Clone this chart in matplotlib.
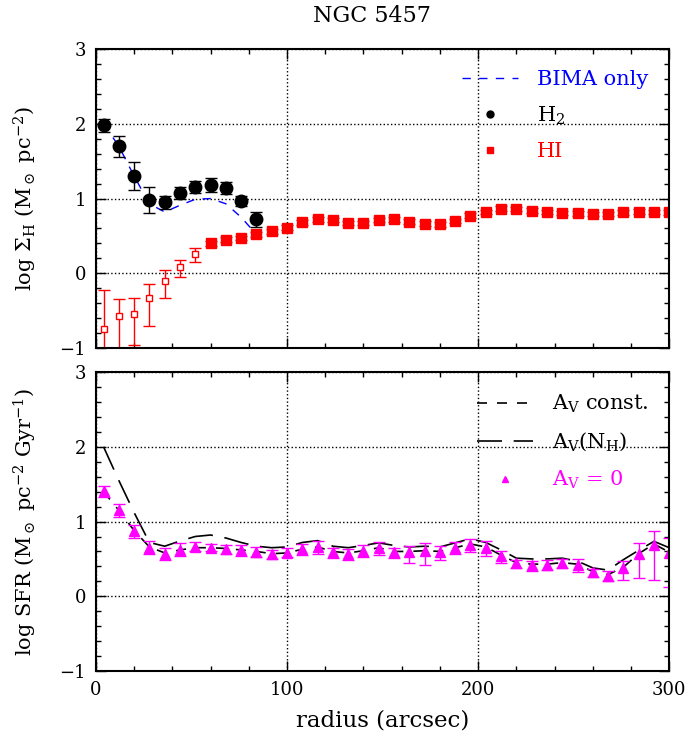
import numpy as np
import matplotlib
matplotlib.use('Agg')
import matplotlib.pyplot as plt
from matplotlib.lines import Line2D
from matplotlib.ticker import MultipleLocator

plt.rcParams['font.family'] = ['DejaVu Serif']
plt.rcParams['mathtext.fontset'] = 'dejavuserif'

# top panel: gas surface densities
h2_r = [4, 12, 20, 28, 36, 44, 52, 60, 68, 76, 84]
h2_y = [1.98, 1.70, 1.30, 0.98, 0.95, 1.075, 1.15, 1.18, 1.14, 0.97, 0.72]
h2_err = [0.09, 0.14, 0.19, 0.17, 0.09, 0.08, 0.08, 0.09, 0.08, 0.07, 0.10]
bima_y = [2.0, 1.7, 1.3, 0.93, 0.82, 0.91, 0.99, 1.0, 0.93, 0.75, 0.52]

hi_open_r = [4, 12, 20, 28, 36, 44, 52]
hi_open_y = [-0.75, -0.57, -0.545, -0.33, -0.10, 0.085, 0.26]
hi_open_lo = [1.0, 0.55, 0.42, 0.37, 0.23, 0.135, 0.11]
hi_open_hi = [0.53, 0.23, 0.215, 0.19, 0.15, 0.095, 0.08]

hi_r = list(range(60, 301, 8))
hi_y = [0.40, 0.45, 0.47, 0.52, 0.56, 0.61, 0.68, 0.72, 0.71, 0.67, 0.67,
        0.71, 0.72, 0.69, 0.665, 0.655, 0.70, 0.77, 0.82, 0.866, 0.86, 0.84,
        0.82, 0.81, 0.80, 0.795, 0.79, 0.815, 0.825, 0.82, 0.815]
hi_err = [0.03] * len(hi_r)

# bottom panel: star formation rate
sfr_r = list(range(4, 301, 8))
sfr0 = [1.405, 1.15, 0.87, 0.65, 0.56, 0.625, 0.66, 0.65, 0.63, 0.615, 0.59, 0.56, 0.58,
        0.635, 0.66, 0.59, 0.57, 0.61, 0.65, 0.59, 0.59, 0.60, 0.59, 0.65, 0.69,
        0.65, 0.535, 0.44, 0.415, 0.42, 0.445, 0.415, 0.32, 0.277, 0.38, 0.56, 0.69, 0.58]
sfr_up = [0.07, 0.09, 0.09, 0.09, 0.08, 0.09, 0.06, 0.05, 0.06, 0.07, 0.07, 0.06, 0.06,
          0.07, 0.08, 0.06, 0.06, 0.08, 0.08, 0.06, 0.08, 0.11, 0.08, 0.07, 0.08,
          0.09, 0.07, 0.05, 0.06, 0.06, 0.055, 0.08, 0.05, 0.06, 0.09, 0.15, 0.19, 0.20]
sfr_lo = [0.07, 0.09, 0.09, 0.09, 0.08, 0.09, 0.06, 0.05, 0.06, 0.07, 0.07, 0.06, 0.06,
          0.08, 0.10, 0.08, 0.08, 0.09, 0.10, 0.08, 0.14, 0.18, 0.10, 0.09, 0.10,
          0.11, 0.09, 0.06, 0.07, 0.07, 0.065, 0.09, 0.06, 0.07, 0.16, 0.31, 0.47, 0.45]
av_const = [1.40, 1.15, 0.88, 0.66, 0.58, 0.62, 0.65, 0.65, 0.64, 0.62, 0.60, 0.57, 0.58,
            0.63, 0.66, 0.60, 0.58, 0.61, 0.65, 0.60, 0.60, 0.61, 0.60, 0.65, 0.70,
            0.66, 0.55, 0.45, 0.43, 0.43, 0.45, 0.43, 0.33, 0.29, 0.39, 0.57, 0.70, 0.59]
av_nh = [2.0, 1.55, 1.12, 0.72, 0.67, 0.74, 0.80, 0.82, 0.78, 0.72, 0.67, 0.65, 0.66,
         0.72, 0.745, 0.67, 0.65, 0.68, 0.715, 0.68, 0.66, 0.67, 0.66, 0.715, 0.77,
         0.72, 0.62, 0.51, 0.50, 0.50, 0.51, 0.47, 0.38, 0.35, 0.49, 0.615, 0.735, 0.65]

short_dash = (0, (6, 6))
long_dash = (0, (15, 7))

fig = plt.figure(figsize=(6.85, 7.4), dpi=100)
ax1 = fig.add_axes([0.140, 0.5297, 0.837, 0.404])
ax2 = fig.add_axes([0.140, 0.0932, 0.837, 0.404])

for ax in (ax1, ax2):
    ax.set_xlim(0, 300)
    ax.set_ylim(-1, 3)
    ax.xaxis.set_major_locator(MultipleLocator(100))
    ax.xaxis.set_minor_locator(MultipleLocator(20))
    ax.yaxis.set_major_locator(MultipleLocator(1))
    ax.yaxis.set_minor_locator(MultipleLocator(0.2))
    ax.tick_params(which='both', direction='in', top=True, right=True, labelsize=13)
    ax.tick_params(which='major', length=7, width=1, pad=7)
    ax.tick_params(which='minor', length=3.6, width=1)
    for s in ax.spines.values():
        s.set_linewidth(1.5)
    ax.grid(True, which='major', linestyle=':', color='black', linewidth=1)
    ax.set_axisbelow(True)

# top panel
ax1.plot(h2_r, bima_y, color='blue', linestyle=short_dash, linewidth=1)
ax1.errorbar(h2_r, h2_y, yerr=h2_err, fmt='o', color='black', markersize=9,
             capsize=4.5, elinewidth=1, capthick=1)
ax1.errorbar(hi_open_r, hi_open_y, yerr=[hi_open_lo, hi_open_hi], fmt='s', color='red',
             mfc='white', mec='red', markersize=5, capsize=4, elinewidth=1, capthick=1)
ax1.errorbar(hi_r, hi_y, yerr=hi_err, fmt='s', color='red', markersize=6.5,
             capsize=4, elinewidth=1, capthick=1)
ax1.set_xticklabels([])
fig.text(0.543, 0.978, 'NGC 5457', fontsize=16, ha='center', va='center')
ax1.set_ylabel(r'log $\Sigma_{\rm H}$ (M$_\odot$ pc$^{-2}$)', fontsize=15)
ax1.yaxis.set_label_coords(-0.10, 0.5)

h1 = [Line2D([], [], color='blue', linestyle=short_dash, linewidth=1),
      Line2D([], [], color='black', marker='o', linestyle='none', markersize=5),
      Line2D([], [], color='red', marker='s', linestyle='none', markersize=4)]
ax1.legend(h1, ['BIMA only', r'H$_2$', 'HI'], loc='upper right', frameon=False,
           fontsize=15, handlelength=2.7, handletextpad=0.9, labelspacing=0.75,
           labelcolor=['blue', 'black', 'red'], borderaxespad=0.6)

# bottom panel
ax2.plot(sfr_r, av_const, color='black', linestyle=short_dash, linewidth=1.2)
ax2.plot(sfr_r, av_nh, color='black', linestyle=long_dash, linewidth=1.2)
ax2.errorbar(sfr_r, sfr0, yerr=[sfr_lo, sfr_up], fmt='^', color='magenta', markersize=7,
             capsize=4, elinewidth=1, capthick=1)
ax2.set_xlabel('radius (arcsec)', fontsize=16.5, labelpad=8)
ax2.set_ylabel(r'log SFR (M$_\odot$ pc$^{-2}$ Gyr$^{-1}$)', fontsize=15)
ax2.yaxis.set_label_coords(-0.10, 0.5)

h2 = [Line2D([], [], color='black', linestyle=short_dash, linewidth=1.2),
      Line2D([], [], color='black', linestyle=long_dash, linewidth=1.2),
      Line2D([], [], color='magenta', marker='^', linestyle='none', markersize=5)]
ax2.legend(h2, [r'A$_{\rm V}$ const.', r'A$_{\rm V}$(N$_{\rm H}$)', r'A$_{\rm V}$ = 0'],
           loc='upper right', frameon=False, fontsize=15, handlelength=2.7,
           handletextpad=0.9, labelspacing=0.75,
           labelcolor=['black', 'black', 'magenta'], borderaxespad=0.6)

fig.savefig('out.png', dpi=100)
